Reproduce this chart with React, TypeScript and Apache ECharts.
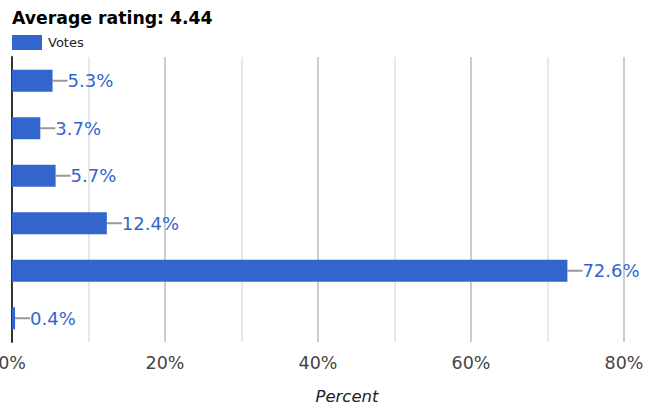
import React, { useEffect, useRef } from "react";
import * as echarts from "echarts";

const categories = ["1 star", "2 stars", "3 stars", "4 stars", "5 stars", "Other"];
const votes = [5.3, 3.7, 5.7, 12.4, 72.6, 0.4];
const titleText = "Average rating: 4.44";
const seriesName = "Votes";
const axisName = "Percent";

export default function App() {
  const ref = useRef<HTMLDivElement>(null);
  useEffect(() => {
    if (!ref.current) return;
    const chart = echarts.init(ref.current, null, { renderer: "svg" });
    const font = "DejaVu Sans";
    chart.setOption({
      animation: false,
      textStyle: { fontFamily: font },
      title: {
        text: titleText,
        left: 7,
        top: 4,
        textStyle: { fontFamily: font, fontWeight: "bold", fontSize: 17.3, color: "#000" },
      },
      legend: {
        data: [seriesName],
        left: 12,
        top: 35,
        padding: 0,
        itemWidth: 30,
        itemHeight: 15,
        itemGap: 5,
        icon: "rect",
        textStyle: { fontFamily: font, fontSize: 13, color: "#222", padding: [0, 0, 0, 1] },
      },
      grid: {
        left: 12,
        right: 29,
        top: 57,
        bottom: 71,
        containLabel: false,
        outerBoundsMode: "none",
      },
      xAxis: {
        type: "value",
        min: 0,
        max: 80,
        interval: 20,
        name: axisName,
        nameLocation: "middle",
        nameGap: 46,
        nameTextStyle: {
          fontFamily: font,
          fontStyle: "italic",
          fontSize: 16.5,
          color: "#222",
          padding: [0, 0, 0, 58],
        },
        axisLine: { show: false },
        axisTick: { show: false },
        axisLabel: {
          formatter: "{value}%",
          fontFamily: font,
          fontSize: 17.5,
          color: "#444",
          margin: 12,
        },
        splitLine: { show: true, lineStyle: { color: "#cccccc", width: 2 } },
        minorTick: { show: false, splitNumber: 2 },
        minorSplitLine: { show: true, lineStyle: { color: "#e8e8e8", width: 2 } },
      },
      yAxis: {
        type: "category",
        data: categories,
        inverse: true,
        axisLine: { show: true, lineStyle: { color: "#333", width: 2 } },
        axisTick: { show: false },
        axisLabel: { show: false },
        splitLine: { show: false },
      },
      series: [
        {
          name: seriesName,
          type: "bar",
          data: votes,
          barWidth: 22,
          itemStyle: { color: "#3366cc" },
          label: {
            show: true,
            position: "right",
            distance: 0,
            formatter: (p: any) => p.value + "%",
            fontFamily: font,
            fontSize: 18,
            color: "#3366cc",
          },
          labelLayout: { dx: 15 },
          labelLine: { show: true, lineStyle: { color: "#999", width: 2 } },
        },
      ],
    });
    return () => chart.dispose();
  }, []);
  return (
    <div
      ref={ref}
      style={{ position: "fixed", left: 0, top: 0, width: 653, height: 413, background: "#fff" }}
    />
  );
}
